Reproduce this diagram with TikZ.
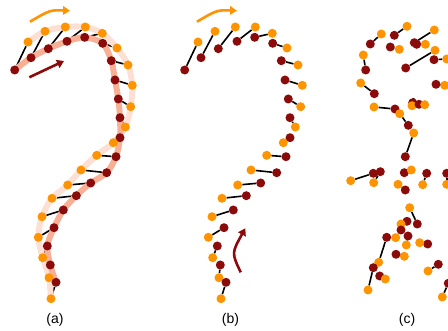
\documentclass[tikz,border=0pt]{standalone}
\usepackage{fontspec}
\setmainfont{Liberation Sans}
\usetikzlibrary{arrows.meta}
\definecolor{dkred}{HTML}{8B0A0A}
\definecolor{orng}{HTML}{FF9400}
\definecolor{salmon}{HTML}{F7B096}
\definecolor{palebd}{HTML}{FDE0D3}
\pgfdeclarelayer{bg}
\pgfsetlayers{bg,main}
\tikzset{
  dk/.style={circle,fill=dkred,inner sep=0pt,minimum size=9pt},
  og/.style={circle,fill=orng,inner sep=0pt,minimum size=9pt},
  link/.style={line width=1.6pt,black},
  bandin/.style={line width=6pt,salmon,line cap=round,line join=round},
  bandout/.style={line width=6pt,palebd,line cap=round,line join=round},
  oarrow/.style={line width=2.6pt,orng,-{Triangle[length=7pt,width=8.5pt]}},
  darrow/.style={line width=2.6pt,dkred,-{Triangle[length=7pt,width=8.5pt]}},
  lbl/.style={font=\fontsize{14}{16}\selectfont,inner sep=0pt}
}
\begin{document}
\begin{tikzpicture}[x=1pt,y=-1pt]
\useasboundingbox (0,0) rectangle (448,331);
% panels (a) and (b): same chain, (b) shifted by 170
\foreach \p/\sh in {a/0,b/170}{
  \foreach [count=\i] \dx/\dy/\ox/\oy in {
    14.7/70/28/42, 31/57.7/45/31.3, 48.3/48.7/65.3/27, 67/41.3/85.3/27,
    84.7/37.3/102.3/33.3, 102.7/43.3/117/48, 111.3/60.7/128/65, 115/80/132.3/85.3,
    118.3/99/130.7/106.7, 120/117.7/125.3/127, 120/137.7/113.3/142.7, 116/156.7/96.7/155.3,
    106.7/172.7/81/170, 90.7/183/67.7/185, 76.3/195.7/52/198.3, 63.3/210/42/216.7,
    54/227.7/38.3/237.3, 47.3/246/42.7/257.7, 50.3/265/49/277.7, 56/282.3/51/298.7}{
    \node[dk] (\p d\i) at (\dx+\sh,\dy) {};
    \node[og] (\p o\i) at (\ox+\sh,\oy) {};
    \begin{pgfonlayer}{bg}
      \draw[link] (\p d\i) -- (\p o\i);
    \end{pgfonlayer}
  }
}
% bands in (a)
\begin{pgfonlayer}{bg}
\draw[bandout] plot[smooth,tension=0.5] coordinates {(ao1) (ao2) (ao3) (ao4) (ao5) (ao6) (ao7) (ao8) (ao9) (ao10) (ao11) (ao12) (ao13) (ao14) (ao15) (ao16) (ao17) (ao18) (ao19) (ao20)};
\draw[bandin] plot[smooth,tension=0.5] coordinates {(ad1) (ad2) (ad3) (ad4) (ad5) (ad6) (ad7) (ad8) (ad9) (ad10) (ad11) (ad12) (ad13) (ad14) (ad15) (ad16) (ad17) (ad18) (ad19) (ad20)};
\end{pgfonlayer}
% panel (c): scattered pairs
\foreach [count=\i] \dx/\dy/\ox/\oy in {
  394.3/35.3/407/26.3, 370.3/44/381.3/34, 390.3/47/399.3/49.3, 414.3/42.7/434.3/30,
  416.7/44.3/425.3/44.3, 365.7/70/363.3/55, 405.7/68/435/50.3, 434/59.7/446.7/59,
  374.3/93.7/360.7/83, 436/84.3/444.7/85.3, 395/109/374/107, 412.7/102.7/412/105.7,
  419/104.3/424.7/104.7, 408.3/125.3/399.7/113.7, 405.3/156.7/413.7/133, 373.3/173.3/350.7/180.7,
  380.3/171.7/373.7/182.7, 404.3/172.7/411.3/170, 405.3/190/398/184.3, 426.7/173.3/422.7/184.7,
  446.7/173.3/446.7/184.3, 417.3/224/409.7/207.7, 407/221.3/401/224, 401/230/395.7/237.7,
  408/236/406.3/245, 386.7/237.3/378.7/262.3, 427.7/244/419.7/242.7, 396/254.3/404.3/256.3,
  373.3/267.7/368/290, 379.7/276/385.3/279, 438.3/264.3/428/271, 448.3/283.3/442.3/297}{
  \node[dk] (cd\i) at (\dx,\dy) {};
  \node[og] (co\i) at (\ox,\oy) {};
  \begin{pgfonlayer}{bg}
    \draw[link] (cd\i) -- (co\i);
  \end{pgfonlayer}
}
% arrows
\coordinate (oa1) at (30,21.7); \coordinate (oa2) at (70,10.7);
\draw[oarrow] (oa1) .. controls (50,10) .. (oa2);
\coordinate (da1) at (29.3,77.3); \coordinate (da2) at (64,61);
\draw[darrow] (da1) -- (da2);
\coordinate (ob1) at (197,21.7); \coordinate (ob2) at (237,10.7);
\draw[oarrow] (ob1) .. controls (217,10) .. (ob2);
\coordinate (db1) at (240.7,272.3); \coordinate (db2) at (245.3,228.3);
\draw[darrow] (db1) .. controls (231.6,253) .. (db2);
% labels
\node[lbl] (la) at (55,320) {(a)};
\node[lbl] (lb) at (230.5,320) {(b)};
\node[lbl] (lc) at (407,320) {(c)};
\end{tikzpicture}
\end{document}
